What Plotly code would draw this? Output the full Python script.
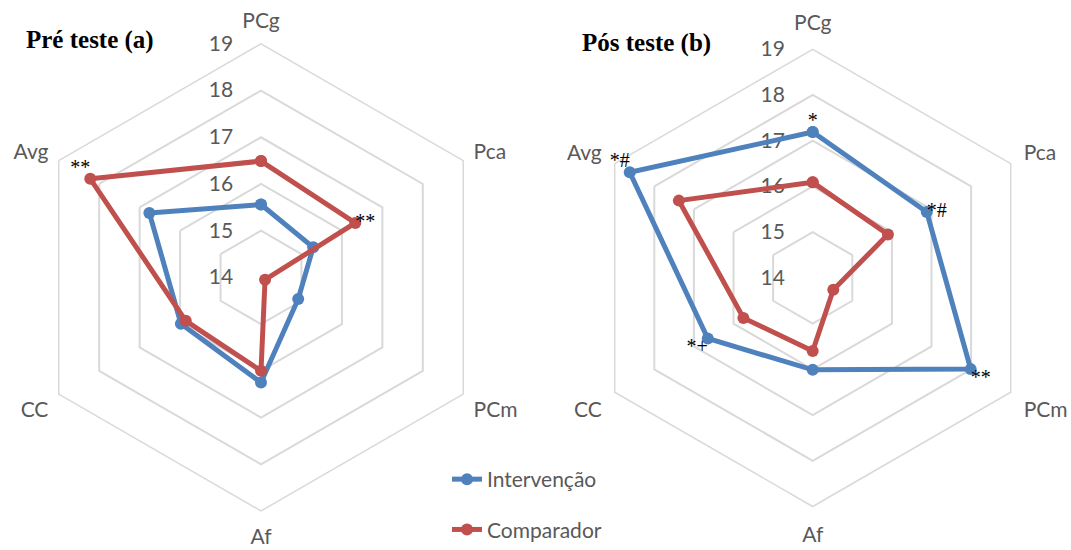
import plotly.graph_objects as go

categories = ["PCg", "Pca", "PCm", "Af", "CC", "Avg"]

pre_intervencao = [15.56, 15.29, 14.92, 16.25, 15.98, 16.76]
pre_comparador = [16.49, 16.33, 14.10, 16.00, 15.86, 18.22]
pos_intervencao = [17.19, 16.88, 17.99, 16.01, 16.65, 18.62]
pos_comparador = [16.09, 15.90, 14.52, 15.60, 15.75, 17.38]

radial_ticks = [14, 15, 16, 17, 18, 19]

# significance marks: (category, value, text, position)
pre_marks_cat = ["Pca", "Avg"]
pre_marks_val = [16.33, 18.22]
pre_marks_txt = ["**", "**"]
pre_marks_pos = ["middle right", "top left"]

pos_marks_cat = ["PCg", "Pca", "PCm", "CC", "Avg"]
pos_marks_val = [17.19, 16.88, 17.99, 16.65, 18.62]
pos_marks_txt = ["*", "*#", "**", "*+", "*#"]
pos_marks_pos = ["top center", "middle right", "bottom right", "bottom left", "top left"]

titles = ["Pré teste (a)", "Pós teste (b)"]

BLUE = "#4F81BD"
RED = "#C0504D"
GRID = "#D9D9D9"
LABEL = "#595959"
FONT = "Lato"

W, H = 1071, 550

fig = go.Figure()

def closed(v):
    return list(v) + [v[0]]

cats_closed = closed(categories)

for sub, (vi, vc) in zip(["polar", "polar2"], [(pre_intervencao, pre_comparador), (pos_intervencao, pos_comparador)]):
    first = sub == "polar"
    fig.add_trace(go.Scatterpolar(
        r=closed(vi), theta=cats_closed, mode="lines+markers", name="Intervenção",
        line=dict(color=BLUE, width=5), marker=dict(color=BLUE, size=12),
        subplot=sub, showlegend=first, legendgroup="i", cliponaxis=False))
    fig.add_trace(go.Scatterpolar(
        r=closed(vc), theta=cats_closed, mode="lines+markers", name="Comparador",
        line=dict(color=RED, width=5), marker=dict(color=RED, size=12),
        subplot=sub, showlegend=first, legendgroup="c", cliponaxis=False))

STAR_FONT = dict(family="Liberation Serif", size=20, color="#000")
fig.add_trace(go.Scatterpolar(
    r=pre_marks_val, theta=pre_marks_cat, mode="text", text=pre_marks_txt,
    textposition=pre_marks_pos, textfont=STAR_FONT,
    subplot="polar", showlegend=False, cliponaxis=False, hoverinfo="skip"))
fig.add_trace(go.Scatterpolar(
    r=pos_marks_val, theta=pos_marks_cat, mode="text", text=pos_marks_txt,
    textposition=pos_marks_pos, textfont=STAR_FONT,
    subplot="polar2", showlegend=False, cliponaxis=False, hoverinfo="skip"))

def polar_layout(cx, cy, R, lab_len):
    x0 = (cx - R) / W
    x1 = (cx + R) / W
    yb = H - cy
    y0 = (yb - R) / H
    y1 = (yb + R) / H
    return dict(
        domain=dict(x=[x0, x1], y=[y0, y1]),
        bgcolor="white",
        gridshape="linear",
        radialaxis=dict(
            range=[14, 19], tickvals=radial_ticks, angle=90, tickangle=90,
            side="counterclockwise", showline=False, showgrid=True,
            gridcolor=GRID, gridwidth=1.5, ticks="outside", ticklen=20,
            tickcolor="rgba(0,0,0,0)", tickfont=dict(family=FONT, size=21, color=LABEL),
            layer="below traces"),
        angularaxis=dict(
            direction="clockwise", rotation=90, showgrid=False, showline=True,
            linecolor=GRID, linewidth=1.5, ticks="outside", ticklen=lab_len,
            tickcolor="rgba(0,0,0,0)",
            tickfont=dict(family=FONT, size=21, color=LABEL), layer="below traces"),
    )

fig.update_layout(
    width=W, height=H,
    margin=dict(l=0, r=0, t=0, b=0),
    paper_bgcolor="white", plot_bgcolor="white",
    polar=polar_layout(261, 281.5, 237, 7),
    polar2=polar_layout(812.7, 282, 232, 10),
    legend=dict(x=447 / W, y=(H - 466) / H, xanchor="left", yanchor="top",
                font=dict(family=FONT, size=21, color=LABEL),
                tracegroupgap=20, bgcolor="rgba(0,0,0,0)"),
    annotations=[
        dict(text="<b>" + titles[0] + "</b>", x=24 / W, y=(H - 41) / H, xref="paper", yref="paper",
             xanchor="left", yanchor="middle", showarrow=False,
             font=dict(family="Liberation Serif", size=25, color="#000")),
        dict(text="<b>" + titles[1] + "</b>", x=580 / W, y=(H - 44) / H, xref="paper", yref="paper",
             xanchor="left", yanchor="middle", showarrow=False,
             font=dict(family="Liberation Serif", size=25, color="#000")),
    ],
)

fig.write_html("out.html", config={"displayModeBar": False},
               post_script="document.body.style.margin='0px';")
